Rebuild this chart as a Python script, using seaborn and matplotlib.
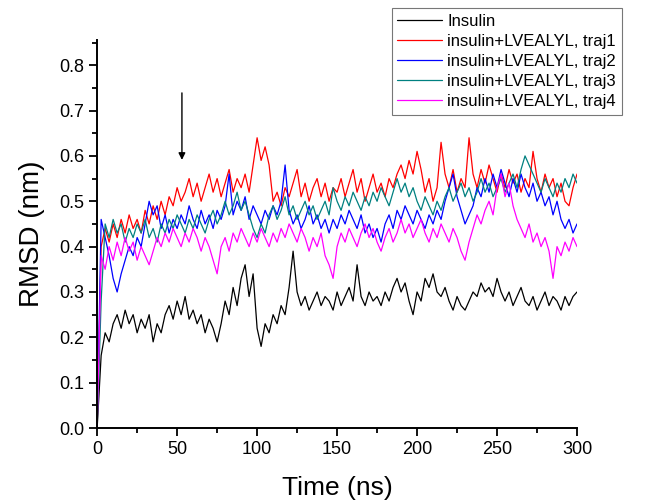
import numpy as np
import pandas as pd
import matplotlib
matplotlib.use("Agg")
import matplotlib.pyplot as plt
from matplotlib.ticker import MultipleLocator, FormatStrFormatter
import seaborn as sns

# RMSD traces, one value every 2.5 ns from 0 to 300 ns
time_ns = np.arange(0, 300.1, 2.5)

insulin = [
    0.00, 0.16, 0.21, 0.19, 0.23, 0.25, 0.22, 0.26, 0.23, 0.25,
    0.21, 0.24, 0.22, 0.25, 0.19, 0.23, 0.21, 0.25, 0.27, 0.24,
    0.28, 0.25, 0.29, 0.24, 0.26, 0.23, 0.25, 0.21, 0.24, 0.22,
    0.19, 0.23, 0.28, 0.25, 0.31, 0.27, 0.33, 0.36, 0.29, 0.34,
    0.22, 0.18, 0.23, 0.21, 0.25, 0.23, 0.27, 0.25, 0.31, 0.39,
    0.30, 0.27, 0.29, 0.26, 0.28, 0.30, 0.27, 0.29, 0.28, 0.26,
    0.30, 0.27, 0.29, 0.31, 0.28, 0.36, 0.29, 0.27, 0.30, 0.28,
    0.29, 0.27, 0.30, 0.28, 0.31, 0.33, 0.30, 0.32, 0.28, 0.25,
    0.30, 0.28, 0.33, 0.31, 0.34, 0.30, 0.29, 0.31, 0.28, 0.26,
    0.29, 0.27, 0.26, 0.28, 0.30, 0.29, 0.32, 0.30, 0.31, 0.29,
    0.33, 0.30, 0.28, 0.30, 0.27, 0.29, 0.31, 0.28, 0.27, 0.29,
    0.26, 0.28, 0.30, 0.27, 0.29, 0.28, 0.26, 0.29, 0.27, 0.29,
    0.30,
]

traj1 = [
    0.00, 0.40, 0.44, 0.41, 0.45, 0.42, 0.46, 0.43, 0.47, 0.44,
    0.46, 0.43, 0.48, 0.45, 0.49, 0.46, 0.50, 0.47, 0.51, 0.49,
    0.53, 0.50, 0.52, 0.55, 0.51, 0.54, 0.50, 0.53, 0.56, 0.52,
    0.55, 0.51, 0.54, 0.57, 0.52, 0.55, 0.53, 0.56, 0.52, 0.58,
    0.64, 0.59, 0.62, 0.58, 0.50, 0.52, 0.49, 0.53, 0.51, 0.54,
    0.57, 0.51, 0.54, 0.50, 0.53, 0.55, 0.51, 0.54, 0.50, 0.53,
    0.52, 0.55, 0.51, 0.54, 0.57, 0.52, 0.55, 0.50, 0.53, 0.56,
    0.52, 0.54, 0.51, 0.55, 0.53, 0.56, 0.58, 0.55, 0.59, 0.56,
    0.61, 0.57, 0.52, 0.55, 0.50, 0.53, 0.63, 0.56, 0.53, 0.57,
    0.52, 0.55, 0.53, 0.64, 0.56, 0.53, 0.57, 0.54, 0.58, 0.55,
    0.52, 0.56, 0.53, 0.57, 0.54, 0.56, 0.52, 0.55, 0.53, 0.61,
    0.55, 0.52, 0.56, 0.53, 0.55, 0.51, 0.54, 0.50, 0.49, 0.53,
    0.56,
]

traj2 = [
    0.00, 0.46, 0.42, 0.38, 0.33, 0.30, 0.34, 0.37, 0.40, 0.38,
    0.42, 0.40, 0.45, 0.50, 0.47, 0.49, 0.44, 0.47, 0.43, 0.46,
    0.44, 0.47, 0.45, 0.49, 0.46, 0.44, 0.48, 0.45, 0.47, 0.44,
    0.48, 0.46, 0.49, 0.56, 0.47, 0.50, 0.48, 0.51, 0.46, 0.49,
    0.47, 0.45, 0.48, 0.46, 0.49, 0.47, 0.50, 0.58, 0.48, 0.45,
    0.47, 0.44, 0.46, 0.49, 0.45, 0.47, 0.44, 0.46, 0.43, 0.46,
    0.44, 0.47, 0.45, 0.48, 0.46, 0.44, 0.47, 0.43, 0.45, 0.42,
    0.44, 0.41, 0.45, 0.47, 0.44, 0.48, 0.46, 0.49, 0.47, 0.45,
    0.48, 0.46, 0.44, 0.47, 0.45, 0.48, 0.46, 0.50, 0.53, 0.56,
    0.51, 0.48, 0.45, 0.47, 0.49, 0.53, 0.51, 0.55, 0.52, 0.56,
    0.53, 0.57, 0.54, 0.51, 0.55, 0.52, 0.56, 0.53, 0.51, 0.54,
    0.50, 0.52, 0.49, 0.51, 0.47, 0.50, 0.46, 0.44, 0.46, 0.43,
    0.45,
]

traj3 = [
    0.00, 0.28, 0.45, 0.42, 0.46, 0.43, 0.45, 0.41, 0.44, 0.42,
    0.45, 0.43, 0.46, 0.42, 0.44, 0.41, 0.45, 0.43, 0.46, 0.44,
    0.47, 0.45, 0.43, 0.46, 0.44, 0.47, 0.45, 0.43, 0.46, 0.48,
    0.45, 0.47, 0.50, 0.47, 0.49, 0.52, 0.48, 0.50, 0.47, 0.44,
    0.42, 0.45, 0.43, 0.47, 0.49, 0.46, 0.48, 0.51, 0.47, 0.49,
    0.46, 0.48, 0.50, 0.47, 0.49, 0.46, 0.48, 0.50, 0.47, 0.53,
    0.50, 0.48, 0.51, 0.49, 0.52, 0.50, 0.48, 0.51, 0.49, 0.52,
    0.50, 0.53, 0.51, 0.49, 0.52, 0.55, 0.52, 0.54, 0.51, 0.53,
    0.50, 0.48, 0.51, 0.49, 0.47, 0.50, 0.48, 0.51, 0.53, 0.50,
    0.52, 0.54, 0.51, 0.53, 0.50, 0.52, 0.55, 0.52, 0.54, 0.51,
    0.53, 0.55, 0.52, 0.54, 0.56, 0.53, 0.57, 0.60, 0.58, 0.56,
    0.54, 0.52, 0.55, 0.53, 0.51, 0.54, 0.52, 0.55, 0.53, 0.56,
    0.54,
]

traj4 = [
    0.00, 0.38, 0.35, 0.40, 0.37, 0.41, 0.38, 0.42, 0.39, 0.41,
    0.37, 0.40, 0.38, 0.36, 0.39, 0.42, 0.40, 0.43, 0.41, 0.44,
    0.42, 0.40, 0.43, 0.41, 0.44, 0.42, 0.39, 0.42, 0.40, 0.37,
    0.34, 0.40, 0.42, 0.39, 0.43, 0.41, 0.44, 0.42, 0.40, 0.43,
    0.41, 0.44, 0.42, 0.40, 0.43, 0.41, 0.44, 0.42, 0.45, 0.43,
    0.41, 0.44, 0.42, 0.39, 0.42, 0.40, 0.43, 0.38, 0.36, 0.33,
    0.40, 0.43, 0.41, 0.44, 0.42, 0.40, 0.43, 0.45, 0.42, 0.44,
    0.41, 0.39, 0.42, 0.44, 0.41, 0.43, 0.46, 0.43, 0.45, 0.42,
    0.44, 0.46, 0.43, 0.41, 0.44, 0.42, 0.45, 0.43, 0.41, 0.44,
    0.42, 0.39, 0.37, 0.41, 0.44, 0.47, 0.45, 0.48, 0.50, 0.47,
    0.53, 0.56, 0.51, 0.54, 0.49, 0.46, 0.44, 0.42, 0.45, 0.41,
    0.43, 0.40, 0.42, 0.39, 0.33, 0.40, 0.38, 0.41, 0.39, 0.42,
    0.40,
]

labels = ["Insulin", "insulin+LVEALYL, traj1", "insulin+LVEALYL, traj2",
          "insulin+LVEALYL, traj3", "insulin+LVEALYL, traj4"]
colors = ["#000000", "#ff0000", "#0000ff", "#008080", "#ff00ff"]

frames = []
for name, vals in zip(labels, [insulin, traj1, traj2, traj3, traj4]):
    frames.append(pd.DataFrame({"Time": time_ns, "RMSD": vals, "series": name}))
df = pd.concat(frames, ignore_index=True)

sns.set_style("ticks")
plt.rcParams["font.family"] = ["Liberation Sans", "DejaVu Sans"]
plt.rcParams["text.color"] = "black"
plt.rcParams["axes.labelcolor"] = "black"
plt.rcParams["xtick.color"] = "black"
plt.rcParams["ytick.color"] = "black"
plt.rcParams["axes.edgecolor"] = "black"

fig = plt.figure(figsize=(6.52, 5.03), dpi=100)
ax = fig.add_axes([0.149, 0.149, 0.736, 0.771])

sns.lineplot(data=df, x="Time", y="RMSD", hue="series", hue_order=labels,
             palette=dict(zip(labels, colors)), linewidth=0.9, ax=ax)

ax.set_xlim(0, 300)
ax.set_ylim(0, 0.855)
ax.xaxis.set_major_locator(MultipleLocator(50))
ax.xaxis.set_minor_locator(MultipleLocator(25))
ax.yaxis.set_major_locator(MultipleLocator(0.1))
ax.yaxis.set_minor_locator(MultipleLocator(0.05))
ax.yaxis.set_major_formatter(FormatStrFormatter("%.1f"))
ax.tick_params(which="major", direction="out", length=6, width=1.3, labelsize=13)
ax.tick_params(which="minor", direction="out", length=3.5, width=1.3)
for side in ["left", "bottom"]:
    ax.spines[side].set_linewidth(1.4)
sns.despine(ax=ax)

ax.set_xlabel("Time (ns)", fontsize=19, labelpad=13)
ax.set_ylabel("RMSD (nm)", fontsize=20, labelpad=10)

# arrow marking the 50 ns region
ax.annotate("", xy=(53, 0.585), xytext=(53, 0.745),
            arrowprops=dict(arrowstyle="-|>", color="black", lw=1.0,
                            mutation_scale=10))

# legend sits in the figure's top right corner, partly outside the axes
handles, hl = ax.get_legend_handles_labels()
ax.get_legend().remove()
leg = fig.legend(handles, hl, loc="upper right", bbox_to_anchor=(0.954, 0.984),
                 fontsize=12, frameon=True, fancybox=False, borderaxespad=0,
                 handlelength=2.7, labelspacing=0.3, borderpad=0.35,
                 handletextpad=0.3)
leg.get_frame().set_edgecolor("#555555")
leg.get_frame().set_linewidth(0.8)
for line in leg.get_lines():
    line.set_linewidth(0.9)

fig.savefig("out.png", dpi=100)
